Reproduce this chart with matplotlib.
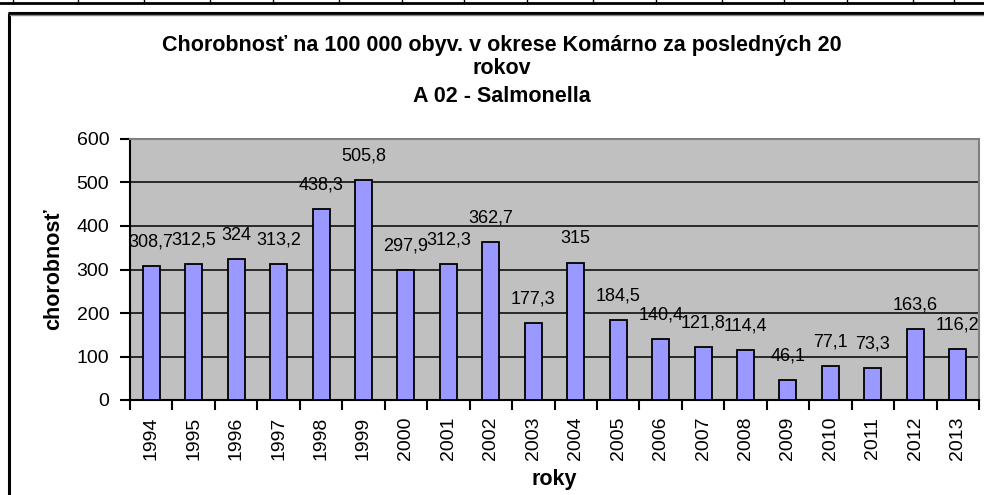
import matplotlib
matplotlib.use("Agg")
import matplotlib.pyplot as plt
from matplotlib.lines import Line2D
import numpy as np

plt.rcParams['font.family'] = ['Liberation Sans', 'DejaVu Sans']

years = ['1994', '1995', '1996', '1997', '1998', '1999', '2000', '2001', '2002', '2003',
         '2004', '2005', '2006', '2007', '2008', '2009', '2010', '2011', '2012', '2013']
values = [308.7, 312.5, 324, 313.2, 438.3, 505.8, 297.9, 312.3, 362.7, 177.3,
          315, 184.5, 140.4, 121.8, 114.4, 46.1, 77.1, 73.3, 163.6, 116.2]
yticks = [0, 100, 200, 300, 400, 500, 600]

W, H = 984, 495
fig = plt.figure(figsize=(W / 100, H / 100), dpi=100)
fig.patch.set_facecolor('white')

# spreadsheet cell borders at top
fig.add_artist(Line2D([0, 1], [1 - 2.5 / H, 1 - 2.5 / H], transform=fig.transFigure, color='black', lw=2))
for xc in [12.5, 78, 144, 210, 273, 339, 402, 464, 527, 593, 656, 722, 784, 847, 913, 954]:
    fig.add_artist(Line2D([xc / W, xc / W], [1 - 3 / H, 1], transform=fig.transFigure, color='black', lw=1))

# chart frame
fig.add_artist(Line2D([8.5 / W, 8.5 / W], [0, 1 - 12.5 / H], transform=fig.transFigure, color='black', lw=2.2, solid_capstyle='butt'))
fig.add_artist(Line2D([7.5 / W, 1], [1 - 12.5 / H, 1 - 12.5 / H], transform=fig.transFigure, color='black', lw=2.2, solid_capstyle='butt'))
fig.add_artist(Line2D([10 / W, 1], [1 - 14.5 / H, 1 - 14.5 / H], transform=fig.transFigure, color='#888888', lw=1))

left, right, top, bottom = 130, 979, 139, 400
ax = fig.add_axes([left / W, 1 - bottom / H, (right - left) / W, (bottom - top) / H])
ax.set_facecolor('#C0C0C0')

x = np.arange(len(years))
ax.bar(x, values, width=0.4, color='#9999FF', edgecolor='black', linewidth=1.3, zorder=3)
ax.set_xlim(-0.5, len(years) - 0.5)
ax.set_ylim(0, 600)
ax.set_yticks(yticks)
ax.set_yticklabels([str(v) for v in yticks], fontsize=14)
ax.yaxis.grid(True, color='black', lw=1.1, zorder=1)
ax.set_axisbelow(True)

ax.set_xticks(x)
ax.set_xticklabels(years, rotation=90, fontsize=14)
ax.tick_params(axis='x', which='major', length=0, pad=12)
ax.set_xticks(np.arange(-0.5, len(years)), minor=True)
ax.tick_params(axis='x', which='minor', length=7, width=1.5, color='black')
ax.tick_params(axis='y', length=7, width=1.5, pad=8)

for s in ['top', 'right']:
    ax.spines[s].set_color('#808080')
    ax.spines[s].set_linewidth(1.5)
for s in ['left', 'bottom']:
    ax.spines[s].set_color('black')
    ax.spines[s].set_linewidth(1.5)

for xi, v in zip(x, values):
    lab = ('%g' % v).replace('.', ',')
    ax.annotate(lab, (xi, v), xytext=(0, 24), textcoords='offset pixels',
                ha='center', va='center', fontsize=13, zorder=5)

ax.set_ylabel('chorobnosť', fontsize=15.5, fontweight='bold', labelpad=9)
ax.set_xlabel('roky', fontsize=15.5, fontweight='bold', labelpad=6)

fig.text(502 / W, 1 - 45 / H, 'Chorobnosť na 100 000 obyv. v okrese Komárno za posledných 20',
         ha='center', va='center', fontsize=15.5, fontweight='bold')
fig.text(502 / W, 1 - 69 / H, 'rokov', ha='center', va='center', fontsize=15.5, fontweight='bold')
fig.text(502 / W, 1 - 96 / H, 'A 02 - Salmonella', ha='center', va='center', fontsize=15.5, fontweight='bold')

fig.savefig('out.png', dpi=100)
